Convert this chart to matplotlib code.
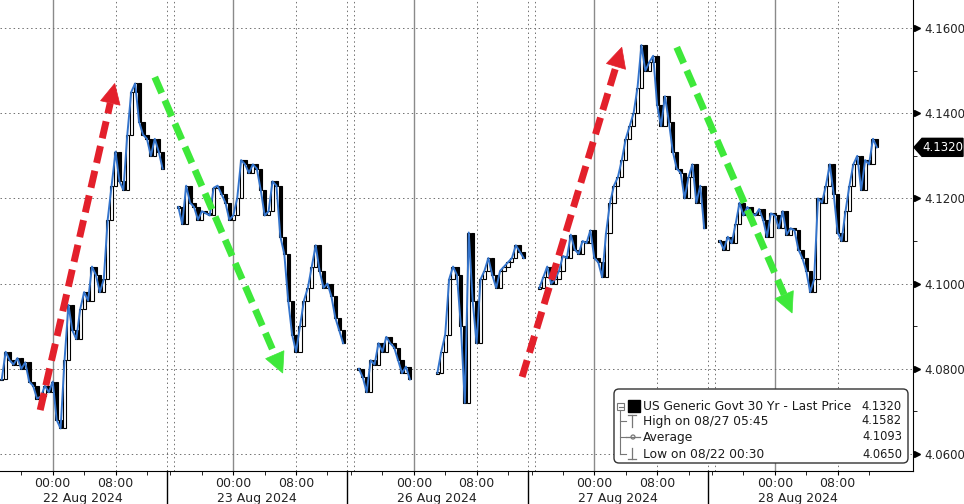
import numpy as np
import matplotlib.pyplot as plt
from matplotlib.patches import FancyBboxPatch, Polygon, Rectangle, Circle
from matplotlib.transforms import blended_transform_factory

plt.rcParams['font.family'] = ['DejaVu Sans']

# session-hour axis: each trading day is 23 h wide, 00:00 is 8.5 h into it
day_len = 23.0
midnight_off = 8.5
days = ["22 Aug 2024", "23 Aug 2024", "26 Aug 2024", "27 Aug 2024", "28 Aug 2024"]

# 30-minute closes, one list per unbroken stretch, with its start hour
seg_start = [2.0, 24.5, 47.5, 57.5, 70.5, 93.5]
close_22 = [4.0775, 4.0840, 4.0820, 4.0810, 4.0825, 4.0800, 4.0815, 4.0770, 4.0760, 4.0730,
            4.0735, 4.0760, 4.0745, 4.0770, 4.0680, 4.0660, 4.0820, 4.0950, 4.0890, 4.0870,
            4.0940, 4.0980, 4.0960, 4.1040, 4.1020, 4.0980, 4.1010, 4.1150, 4.1230, 4.1310,
            4.1240, 4.1220, 4.1350, 4.1450, 4.1470, 4.1380, 4.1350, 4.1340, 4.1300, 4.1340,
            4.1310, 4.1270]
close_23 = [4.1180, 4.1140, 4.1230, 4.1190, 4.1180, 4.1150, 4.1170, 4.1165, 4.1160, 4.1225,
            4.1230, 4.1210, 4.1190, 4.1150, 4.1160, 4.1200, 4.1290, 4.1280, 4.1260, 4.1280,
            4.1270, 4.1220, 4.1160, 4.1170, 4.1240, 4.1230, 4.1110, 4.1070, 4.0960, 4.0880,
            4.0840, 4.0900, 4.0960, 4.0990, 4.1040, 4.1090, 4.1030, 4.0990, 4.1000, 4.0970,
            4.0920, 4.0890, 4.0860]
close_26a = [4.0800, 4.0780, 4.0745, 4.0820, 4.0810, 4.0860, 4.0840, 4.0875, 4.0860, 4.0850,
             4.0820, 4.0790, 4.0805, 4.0775]
close_26b = [4.0790, 4.0840, 4.0880, 4.1010, 4.1040, 4.1020, 4.0900, 4.0720, 4.1120, 4.0960,
             4.0860, 4.1010, 4.1030, 4.1060, 4.1020, 4.0990, 4.1030, 4.1040, 4.1050, 4.1060,
             4.1090, 4.1075, 4.1060]
close_27 = [4.0990, 4.1015, 4.1040, 4.1000, 4.1010, 4.1030, 4.1065, 4.1060, 4.1115, 4.1080,
            4.1070, 4.1100, 4.1095, 4.1125, 4.1060, 4.1050, 4.1015, 4.1120, 4.1190, 4.1230,
            4.1250, 4.1290, 4.1340, 4.1370, 4.1400, 4.1460, 4.1560, 4.1500, 4.1520, 4.1535,
            4.1420, 4.1370, 4.1440, 4.1380, 4.1310, 4.1270, 4.1260, 4.1200, 4.1250, 4.1280,
            4.1190, 4.1230, 4.1130]
close_28 = [4.1100, 4.1080, 4.1110, 4.1095, 4.1140, 4.1190, 4.1160, 4.1180, 4.1165, 4.1160,
            4.1175, 4.1150, 4.1110, 4.1165, 4.1160, 4.1130, 4.1170, 4.1115, 4.1130, 4.1125,
            4.1080, 4.1060, 4.1030, 4.0980, 4.1010, 4.1200, 4.1190, 4.1230, 4.1280, 4.1210,
            4.1120, 4.1100, 4.1170, 4.1230, 4.1280, 4.1300, 4.1220, 4.1290, 4.1280, 4.1340,
            4.1320]
segments = [close_22, close_23, close_26a, close_26b, close_27, close_28]

legend_title = "US Generic Govt 30 Yr - Last Price"
legend_rows = ["High on 08/27 05:45", "Average", "Low on 08/22 00:30"]
legend_vals = ["4.1320", "4.1582", "4.1093", "4.0650"]
last_price = 4.1320

# hand drawn arrows: (tail hour, tail price, tip hour, tip price, colour)
arrows = [(6.9, 4.0703, 16.4, 4.1470, "#e3202b"),
          (21.5, 4.1485, 37.8, 4.0790, "#3ee83a"),
          (68.3, 4.0781, 81.0, 4.1555, "#e3202b"),
          (88.0, 4.1555, 102.7, 4.0931, "#3ee83a")]

W, H = 964, 504
XLIM = (1.78, 118.1)
YLIM = (4.0560, 4.1666)
fig = plt.figure(figsize=(W / 100, H / 100), dpi=100)
ax = fig.add_axes([0, 33 / H, 913 / W, 471 / H])

# grid
grid_kw = dict(color="#707070", lw=0.7, ls=(0, (1.5, 3)), zorder=1)
for d in range(5):
    ax.axvline(d * day_len + midnight_off, color="#8a8a8a", lw=1, zorder=1)
    ax.axvline(d * day_len + midnight_off + 8, **grid_kw)
    if d > 0:
        ax.axvline(d * day_len, **grid_kw)
        ax.axvline(d * day_len + 0.9, **grid_kw)
for yv in np.arange(4.06, 4.161, 0.02):
    ax.axhline(yv, **grid_kw)

# candles + last price line
bw = 0.4
for start, cl in zip(seg_start, segments):
    cl = np.array(cl)
    t = start + 0.5 * np.arange(len(cl))
    op = np.concatenate([[cl[0]], cl[:-1]])
    lo = np.minimum(op, cl)
    flat = np.abs(cl - op) < 0.0004
    ht = np.where(flat, 0.0004, np.abs(cl - op))
    fc = np.where(cl >= op, "white", "black")
    ax.bar(t, ht, bottom=lo - 0.0002 * flat, width=bw,
           color=fc, edgecolor="black", linewidth=0.8, zorder=2)
    ax.plot(t, cl, color="#3474cc", lw=1.4, zorder=3)

# axes styling
for side in ("left", "top"):
    ax.spines[side].set_visible(False)
ax.yaxis.tick_right()
yt = np.arange(4.06, 4.161, 0.02)
ax.set_yticks(yt)
ax.set_yticklabels(["%.4f" % v for v in yt])
ax.set_yticks(np.arange(4.07, 4.161, 0.02), minor=True)
ax.tick_params(axis="y", which="major", length=0, pad=8, labelsize=8.5, labelcolor="#222222")
ax.tick_params(axis="y", which="minor", length=3, direction="out", color="black")

major = []
labels = []
minor = []
for d in range(5):
    m = d * day_len + midnight_off
    major += [m, m + 8]
    labels += ["00:00", "08:00"]
    minor += [m - 4, m + 4, m + 12]
    if d > 0:
        minor.append(d * day_len + 0.5)
ax.set_xticks(major)
ax.set_xticklabels(labels)
ax.set_xticks(minor, minor=True)
ax.tick_params(axis="x", which="both", length=3, direction="out", pad=1,
               labelsize=9, labelcolor="#222222")
ax.set_xlim(*XLIM)
ax.set_ylim(*YLIM)

tri = blended_transform_factory(ax.transAxes, ax.transData)
ax.plot([1.0045] * len(yt), yt, ls="none", marker=">", ms=5,
        color="black", transform=tri, clip_on=False)

xt = blended_transform_factory(ax.transData, ax.transAxes)
for d, name in enumerate(days):
    a, b = max(d * day_len, XLIM[0]), (d + 1) * day_len
    ax.text((a + b) / 2, -0.058, name, transform=xt, ha="center", va="center",
            fontsize=9, color="#222222")
    if d > 0:
        ax.plot([d * day_len] * 2, [0, -0.08], color="black", lw=1, transform=xt, clip_on=False)
ax.set_xlim(*XLIM)
ax.set_ylim(*YLIM)

# overlay in pixel units for arrows, legend and last-price tag
ov = fig.add_axes([0, 0, 1, 1], zorder=5)
ov.set_xlim(0, W)
ov.set_ylim(H, 0)
ov.axis("off")
ov.patch.set_alpha(0)


def to_px(x, y):
    return ov.transData.inverted().transform(ax.transData.transform((x, y)))


for tx, ty, hx, hy, col in arrows:
    p0 = to_px(tx, ty)
    p1 = to_px(hx, hy)
    v = p1 - p0
    u = v / np.hypot(*v)
    n = np.array([-u[1], u[0]])
    base = p1 - 20 * u
    ov.plot([p0[0], base[0]], [p0[1], base[1]], color=col, lw=5,
            ls=(0, (2.5, 1.15)), solid_capstyle="butt", dash_capstyle="butt")
    ov.add_patch(Polygon([p1, base + 10 * n, base - 10 * n], closed=True, fc=col, ec=col, lw=0.5))

# last price tag
py = to_px(0, last_price)[1]
ov.add_patch(Polygon([(914, py), (922, py - 9), (963, py - 9), (963, py + 9), (922, py + 9)],
                     closed=True, fc="black", ec="black"))
ov.text(943, py, "%.4f" % last_price, color="white", fontsize=8.5, ha="center", va="center")

# legend box
ov.add_patch(FancyBboxPatch((614, 389), 294, 74, boxstyle="round,pad=0,rounding_size=5",
                            fc="white", ec="#333333", lw=1))
gray = "#777777"
rows_y = [406, 421, 437, 454]
ov.plot([620, 620], [410, 454], color=gray, lw=0.8)
for yy in rows_y[1:]:
    ov.plot([620, 626], [yy, yy], color=gray, lw=0.8)
ov.add_patch(Rectangle((617, 403), 7, 7, fc="white", ec=gray, lw=0.8))
ov.plot([618.5, 622.5], [406.5, 406.5], color=gray, lw=0.8)
ov.add_patch(Rectangle((628, 400), 12, 12, fc="black", ec="black"))
ov.plot([628, 636], [415, 415], color=gray, lw=0.9)
ov.plot([632, 632], [415, 427], color=gray, lw=0.9)
ov.plot([626, 640], [437, 437], color=gray, lw=0.9)
ov.add_patch(Circle((633, 437), 2, fc="white", ec=gray, lw=0.9))
ov.plot([632, 632], [448, 459], color=gray, lw=0.9)
ov.plot([628, 636], [459, 459], color=gray, lw=0.9)

for yy, txt, val in zip(rows_y, [legend_title] + legend_rows, legend_vals):
    ov.text(643, yy, txt, fontsize=8.8, color="#1a1a1a", ha="left", va="center")
    ov.text(902, yy, val, fontsize=8.3, color="#1a1a1a", ha="right", va="center")

fig.savefig("out.png", dpi=100)
